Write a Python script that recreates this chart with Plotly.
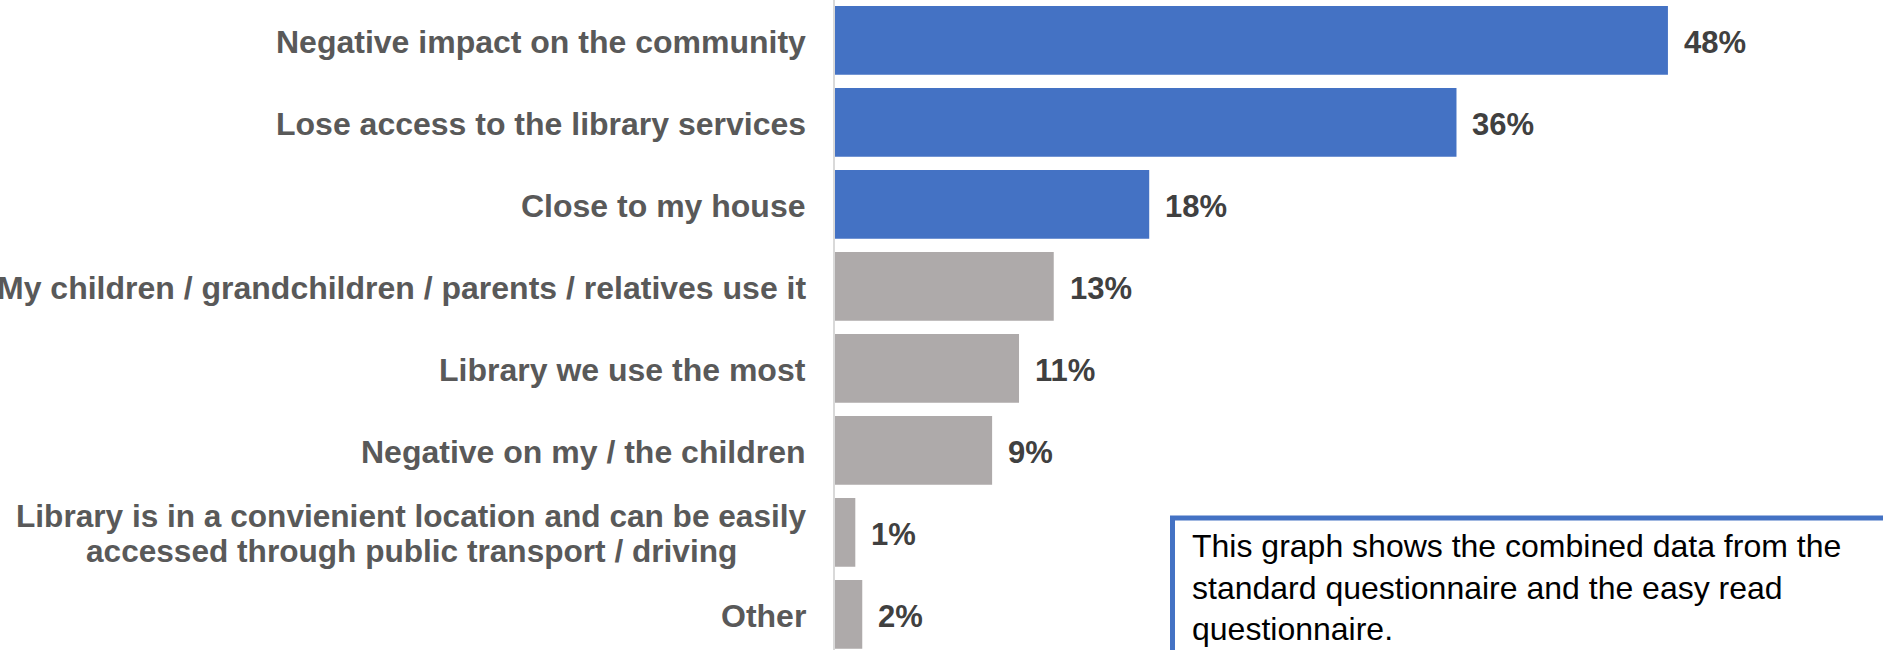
import plotly.graph_objects as go

categories = [
    "Negative impact on the community",
    "Lose access to the library services",
    "Close to my house",
    "My children / grandchildren / parents / relatives use it",
    "Library we use the most",
    "Negative on my / the children",
    "Library is in a convienient location and can be easily<br>accessed through public transport / driving",
    "Other",
]
values = [47.98, 35.8, 18.1, 12.6, 10.6, 9.05, 1.17, 1.57]
value_labels = ["48%", "36%", "18%", "13%", "11%", "9%", "1%", "2%"]
highlight = [True, True, True, False, False, False, False, False]
note_text = ("This graph shows the combined data from the<br>"
             "standard questionnaire and the easy read<br>questionnaire.")

BLUE = "#4472C4"
GREY = "#AEAAAA"
FONT = "Liberation Sans, Arial, sans-serif"

W, H = 1883, 650
L = 835
LINE_PITCH = 35

fig = go.Figure()
fig.add_trace(go.Bar(
    x=values,
    y=categories,
    orientation="h",
    marker=dict(color=[BLUE if h else GREY for h in highlight], line=dict(width=0)),
    hoverinfo="skip",
))

annotations = []
for cat, v, lab in zip(categories, values, value_labels):
    annotations.append(dict(
        x=v, y=cat, xref="x", yref="y", text=lab, showarrow=False,
        xanchor="left", yanchor="middle", xshift=14, yshift=-2,
        font=dict(family=FONT, size=31, color="#404040", weight="bold"),
    ))
    lines = cat.split("<br>")
    n = len(lines)
    for i, line in enumerate(lines):
        off = ((n - 1) / 2 - i) * LINE_PITCH
        annotations.append(dict(
            x=0, y=cat, xref="paper", yref="y", text=line, showarrow=False,
            xanchor="center" if n > 1 else "right", yanchor="middle",
            xshift=-27 - (397 if n > 1 else 0), yshift=off - 1.5,
            font=dict(family=FONT, size=31.6 if n > 1 else 32,
                      color="#595959", weight="bold"),
        ))

plot_w = W - L
annotations.append(dict(
    x=(1190 - L) / plot_w, y=1 - 526 / H, xref="paper", yref="paper",
    text=note_text, showarrow=False, xanchor="left", yanchor="top", align="left",
    font=dict(family=FONT, size=32, color="#000000"),
))

fig.update_layout(
    width=W, height=H,
    margin=dict(l=L, r=0, t=0, b=0, pad=0),
    paper_bgcolor="white", plot_bgcolor="white",
    bargap=0.162,
    showlegend=False,
    xaxis=dict(range=[0, plot_w / 17.36], visible=False, fixedrange=True),
    yaxis=dict(
        type="category",
        range=[7.434, -0.4927],
        showticklabels=False, showgrid=False, zeroline=False,
        showline=True, linecolor="#D9D9D9", linewidth=2, ticks="",
        fixedrange=True,
    ),
    annotations=annotations,
    shapes=[dict(
        type="rect", xref="paper", yref="paper",
        x0=(1172.5 - L) / plot_w, x1=1.1, y0=-0.2, y1=1 - 518 / H,
        line=dict(color=BLUE, width=5), fillcolor="rgba(0,0,0,0)", layer="above",
    )],
)

fig.write_html(
    "out.html",
    config={"displayModeBar": False, "staticPlot": True},
    post_script="document.body.style.margin='0';document.body.style.overflow='hidden';",
)
